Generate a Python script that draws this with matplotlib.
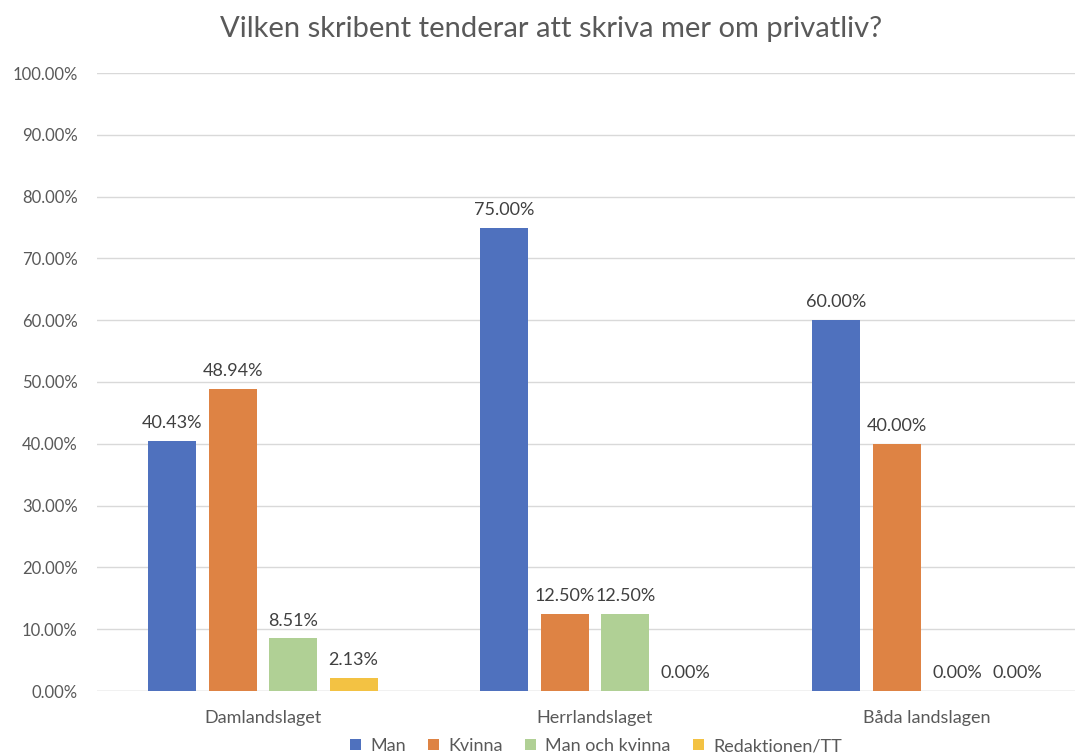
import matplotlib.pyplot as plt
import numpy as np

plt.rcParams['font.family'] = ['Lato', 'DejaVu Sans']

categories = ['Damlandslaget', 'Herrlandslaget', 'Båda landslagen']
series = ['Man', 'Kvinna', 'Man och kvinna', 'Redaktionen/TT']
man = [40.43, 75.00, 60.00]
kvinna = [48.94, 12.50, 40.00]
man_och_kvinna = [8.51, 12.50, 0.00]
redaktionen = [2.13, 0.00, 0.00]
values = [man, kvinna, man_och_kvinna, redaktionen]
colors = ['#4f71be', '#de8344', '#b0d095', '#f3c243']
text_color = '#595959'

fig = plt.figure(figsize=(10.79, 7.54), dpi=100)
ax = fig.add_axes([97 / 1079, 1 - 691 / 754, (1075 - 97) / 1079, (691 - 73) / 754])

x = np.arange(len(categories))
step = 0.182
width = 0.145
for i, (name, vals, c) in enumerate(zip(series, values, colors)):
    pos = x + (i - 1.5) * step
    ax.bar(pos, vals, width, color=c, label=name, zorder=3)
    for p, v in zip(pos, vals):
        ax.text(p, v + 1.6, f'{v:.2f}%', ha='center', va='bottom',
                fontsize=13, color='#404040')

ax.set_xlim(-0.5, (1075 - 97) / 332 - 0.5)
ax.set_ylim(0, 100)
ax.set_yticks(np.arange(0, 101, 10))
ax.set_yticklabels([f'{t:.2f}%' for t in range(0, 101, 10)])
ax.set_xticks(x)
ax.set_xticklabels(categories)
ax.tick_params(axis='both', length=0, colors=text_color)
ax.tick_params(axis='y', labelsize=12, pad=14)
ax.tick_params(axis='x', labelsize=13, pad=14)
ax.grid(axis='y', color='#d9d9d9', linewidth=1, zorder=0)
for s in ax.spines.values():
    s.set_visible(False)
ax.axhline(0, color='#d9d9d9', linewidth=1, zorder=1)

fig.text(551 / 1079, 1 - 29 / 754, 'Vilken skribent tenderar att skriva mer om privatliv?',
         ha='center', va='center', fontsize=21, color=text_color)

fig.legend(loc='center', bbox_to_anchor=(596 / 1079, 1 - 746 / 754), ncol=4,
           frameon=False, fontsize=13, handlelength=0.6, handleheight=0.6,
           handletextpad=0.5, columnspacing=1.25, labelcolor=text_color)

fig.savefig('out.png', dpi=100)
